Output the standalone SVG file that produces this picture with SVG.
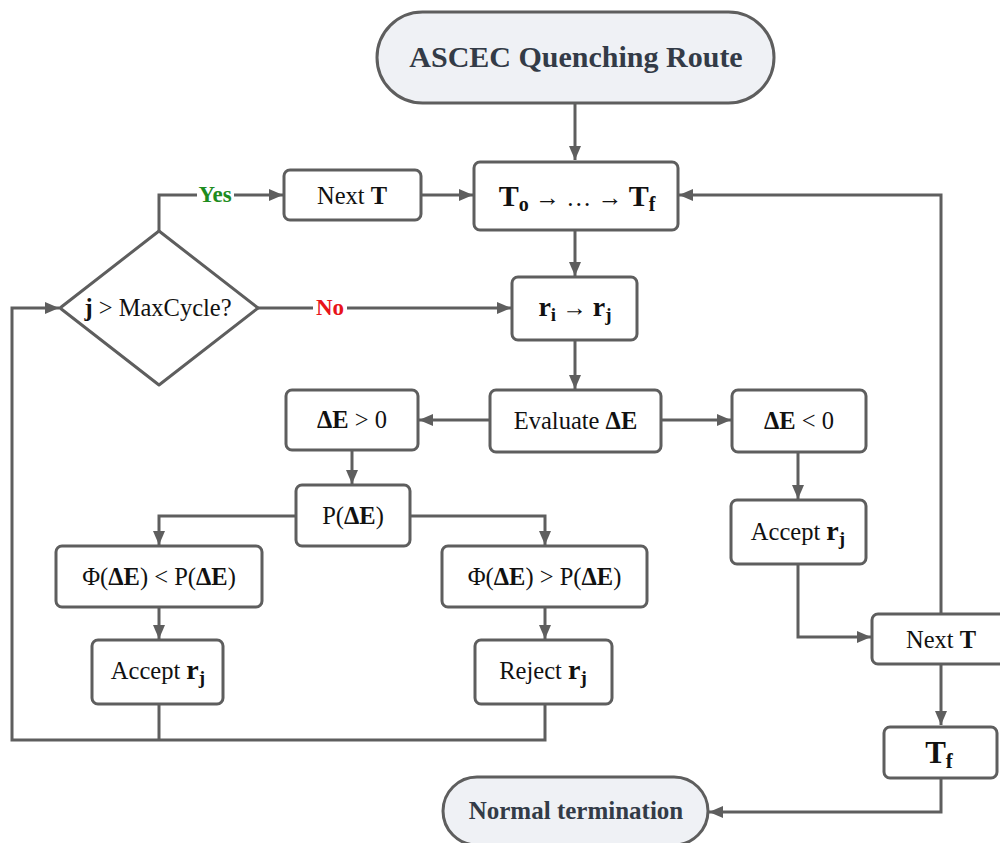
<svg xmlns="http://www.w3.org/2000/svg" width="1000" height="843" viewBox="0 0 1000 843">
<style>
.box{fill:#ffffff;stroke:#5e5e5e;stroke-width:3}
.pill{fill:#eff1f5;stroke:#5e5e5e;stroke-width:3}
.ln{fill:none;stroke:#5e5e5e;stroke-width:3}
.t{font-family:"Liberation Serif","Times New Roman",serif;font-size:24.5px;fill:#111111;text-anchor:middle}
.b{font-weight:bold}
.r{font-weight:bold;font-size:28px}
.s{font-weight:bold;font-size:19px}
.pt{font-family:"Liberation Serif","Times New Roman",serif;font-size:30px;font-weight:bold;fill:#333b47;text-anchor:middle}
.lbl{font-family:"Liberation Serif","Times New Roman",serif;font-size:23px;font-weight:bold;text-anchor:middle}
</style>
<defs>
<marker id="ah" viewBox="0 0 14 12" refX="14" refY="6" markerWidth="14" markerHeight="12" markerUnits="userSpaceOnUse" orient="auto">
<path d="M0,0 L14,6 L0,12 Z" fill="#5e5e5e"/>
</marker>
</defs>
<rect width="1000" height="843" fill="#ffffff"/>
<g id="connectors">
<path class="ln" d="M575,104 V160" marker-end="url(#ah)"/>
<path class="ln" d="M421,195 H473" marker-end="url(#ah)"/>
<path class="ln" d="M575,231 V276" marker-end="url(#ah)"/>
<path class="ln" d="M159,231 V195 H283" marker-end="url(#ah)"/>
<path class="ln" d="M258,308 H511" marker-end="url(#ah)"/>
<path class="ln" d="M575,341 V389" marker-end="url(#ah)"/>
<path class="ln" d="M490,420 H419" marker-end="url(#ah)"/>
<path class="ln" d="M661,420 H731" marker-end="url(#ah)"/>
<path class="ln" d="M352,451 V484" marker-end="url(#ah)"/>
<path class="ln" d="M296,516 H159 V545" marker-end="url(#ah)"/>
<path class="ln" d="M410,516 H545 V545" marker-end="url(#ah)"/>
<path class="ln" d="M159,608 V639" marker-end="url(#ah)"/>
<path class="ln" d="M545,608 V639" marker-end="url(#ah)"/>
<path class="ln" d="M159,705 V740"/>
<path class="ln" d="M545,705 V740 H12 V308 H59" marker-end="url(#ah)"/>
<path class="ln" d="M798,453 V499" marker-end="url(#ah)"/>
<path class="ln" d="M798,565 V637 H871" marker-end="url(#ah)"/>
<path class="ln" d="M941,613 V195 H679" marker-end="url(#ah)"/>
<path class="ln" d="M941,665 V725" marker-end="url(#ah)"/>
<path class="ln" d="M941,779 V812 H709" marker-end="url(#ah)"/>
<rect x="197" y="182" width="37" height="26" fill="#ffffff"/>
<text class="lbl" x="215" y="202" fill="#1e8c1e">Yes</text>
<rect x="313" y="295" width="34" height="26" fill="#ffffff"/>
<text class="lbl" x="330" y="315" fill="#e8141a">No</text>
</g>
<g id="start">
<rect class="pill" x="377" y="12" width="397" height="91" rx="45.5"/>
<text class="pt" x="576" y="67">ASCEC Quenching Route</text>
</g>
<g id="nextT1">
<rect class="box" x="284" y="170" width="137" height="50" rx="6"/>
<text class="t" x="352" y="204">Next <tspan class="b">T</tspan></text>
</g>
<g id="tloop">
<rect class="box" x="474" y="162" width="204" height="68" rx="6"/>
<text class="t" x="577" y="206" style="font-size:30px"><tspan class="b">T</tspan><tspan class="b" dy="5" style="font-size:20px">o</tspan><tspan dy="-5" style="font-size:25px"> → … → </tspan><tspan class="b">T</tspan><tspan class="b" dy="5" style="font-size:20px">f</tspan></text>
</g>
<g id="decision">
<path class="box" d="M159,231 L258,308 L159,385 L60,308 Z" stroke-linejoin="round"/>
<text class="t" x="158" y="316"><tspan class="b">j</tspan> &gt; MaxCycle?</text>
</g>
<g id="move">
<rect class="box" x="512" y="277" width="125" height="63" rx="6"/>
<text class="t" x="575" y="316"><tspan class="r">r</tspan><tspan class="s" dy="5">i</tspan><tspan dy="-5"> → </tspan><tspan class="r">r</tspan><tspan class="s" dy="5">j</tspan></text>
</g>
<g id="evaluate">
<rect class="box" x="490" y="390" width="171" height="62" rx="6"/>
<text class="t" x="575.5" y="429">Evaluate <tspan class="b">ΔE</tspan></text>
</g>
<g id="dEpos">
<rect class="box" x="286" y="390" width="132" height="60" rx="6"/>
<text class="t" x="352" y="428"><tspan class="b">ΔE</tspan> &gt; 0</text>
</g>
<g id="dEneg">
<rect class="box" x="732" y="390" width="134" height="62" rx="6"/>
<text class="t" x="799" y="429"><tspan class="b">ΔE</tspan> &lt; 0</text>
</g>
<g id="prob">
<rect class="box" x="296" y="485" width="114" height="61" rx="6"/>
<text class="t" x="353" y="524">P(<tspan class="b">ΔE</tspan>)</text>
</g>
<g id="phiLess">
<rect class="box" x="56" y="546" width="206" height="61" rx="6"/>
<text class="t" x="159" y="585">Φ(<tspan class="b">ΔE</tspan>) &lt; P(<tspan class="b">ΔE</tspan>)</text>
</g>
<g id="phiGreater">
<rect class="box" x="442" y="546" width="205" height="61" rx="6"/>
<text class="t" x="544.5" y="585">Φ(<tspan class="b">ΔE</tspan>) &gt; P(<tspan class="b">ΔE</tspan>)</text>
</g>
<g id="acceptLeft">
<rect class="box" x="92" y="640" width="131" height="64" rx="6"/>
<text class="t" x="158" y="679">Accept <tspan class="r">r</tspan><tspan class="s" dy="5">j</tspan></text>
</g>
<g id="reject">
<rect class="box" x="475" y="640" width="137" height="64" rx="6"/>
<text class="t" x="543" y="679">Reject <tspan class="r">r</tspan><tspan class="s" dy="5">j</tspan></text>
</g>
<g id="acceptRight">
<rect class="box" x="731" y="500" width="135" height="64" rx="6"/>
<text class="t" x="798" y="540">Accept <tspan class="r">r</tspan><tspan class="s" dy="5">j</tspan></text>
</g>
<g id="nextT2">
<rect class="box" x="872" y="614" width="135" height="50" rx="6"/>
<text class="t" x="941" y="648">Next <tspan class="b">T</tspan></text>
</g>
<g id="tf">
<rect class="box" x="884" y="727" width="113" height="51" rx="6"/>
<text class="t" x="939" y="763" style="font-size:31px"><tspan class="b">T</tspan><tspan class="b" dy="5" style="font-size:21px">f</tspan></text>
</g>
<g id="end">
<rect class="pill" x="443" y="777" width="265" height="68" rx="34"/>
<text class="pt" x="576" y="819" style="font-size:25px">Normal termination</text>
</g>
</svg>
